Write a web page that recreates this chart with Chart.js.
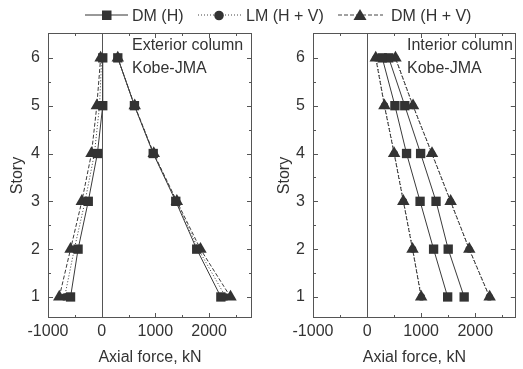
<!DOCTYPE html>
<html>
<head>
<meta charset="utf-8">
<script src="https://cdn.jsdelivr.net/npm/chart.js@4"></script>
<style>
  html, body { margin: 0; padding: 0; background: #fff; }
  #wrap { position: relative; width: 523px; height: 369px; overflow: hidden; }
  #legend { position: absolute; left: 0; top: 0; }
  #c1 { position: absolute; left: 0; top: 0; }
  #c2 { position: absolute; left: 262px; top: 0; }
</style>
</head>
<body>
<div id="wrap">
  <canvas id="c1" width="262" height="369"></canvas>
  <canvas id="c2" width="261" height="369"></canvas>
  <svg id="legend" width="523" height="30" font-family="Liberation Sans, Arial, sans-serif" font-size="16" fill="#333">
    <line x1="85" y1="15" x2="128" y2="15" stroke="#333" stroke-width="1"/>
    <rect x="102" y="10.5" width="9.5" height="9.5" fill="#333"/>
    <text x="132" y="20.5">DM (H)</text>
    <line x1="198" y1="15" x2="242" y2="15" stroke="#444" stroke-width="1" stroke-dasharray="1,2"/>
    <circle cx="219" cy="15.5" r="4.8" fill="#333"/>
    <text x="246" y="20.5">LM (H + V)</text>
    <line x1="338" y1="15" x2="383" y2="15" stroke="#444" stroke-width="1" stroke-dasharray="4,2"/>
    <polygon points="360,9 366.5,20 353.5,20" fill="#333"/>
    <text x="391" y="20.5">DM (H + V)</text>
  </svg>
</div>
<script>
var stories = [1, 2, 3, 4, 5, 6];
var xTicks = [-1000, 0, 1000, 2000];
var xMinorTicks = [-500, 500, 1500, 2500];
var yMinorTicks = [1.5, 2.5, 3.5, 4.5, 5.5];

// exterior column (left)
var extDmH_min = [-580, -440, -250, -80, 20, 20];
var extDmH_max = [2220, 1770, 1380, 960, 610, 300];
var extLm_min = [-690, -510, -310, -135, -40, 0];
var extLm_max = [2310, 1800, 1390, 965, 612, 300];
var extDmHV_min = [-790, -580, -370, -190, -90, -20];
var extDmHV_max = [2400, 1840, 1400, 970, 615, 300];

// interior column (right)
var intDmH_min = [1490, 1230, 980, 730, 515, 280];
var intDmH_max = [1795, 1500, 1275, 990, 697, 400];
var intLm_min = [1005, 845, 675, 505, 325, 165];
var intLm_max = [2260, 1885, 1540, 1195, 845, 520];
var intDmHV_min = [1000, 840, 670, 500, 320, 160];
var intDmHV_max = [2266, 1890, 1545, 1200, 850, 525];

var FONT = 'Liberation Sans, Arial, sans-serif';
var TXT = '#333';

function pts(vals) {
    return vals.map((v, i) => ({x: v, y: stories[i]}));
}

// lower order is drawn on top: squares > triangles > circles
function series(vals, style) {
    var ds = {
        data: pts(vals),
        borderColor: '#3a3a3a',
        borderWidth: 1,
        backgroundColor: '#333',
        pointBorderWidth: 0,
        fill: false,
        tension: 0
    };
    if (style == 'sq') {
        ds.pointStyle = 'rect'; ds.pointRadius = 6.6; ds.order = 1;
    } else if (style == 'ci') {
        ds.pointStyle = 'circle'; ds.pointRadius = 3.6; ds.borderDash = [1, 2]; ds.order = 3;
    } else {
        ds.pointStyle = 'triangle'; ds.pointRadius = 7.2; ds.borderDash = [4, 2]; ds.order = 2;
    }
    return ds;
}

var framePlugin = {
    id: 'frame',
    beforeDatasetsDraw(chart) {
        var ctx = chart.ctx, a = chart.chartArea;
        var x = chart.scales.x, y = chart.scales.y;
        ctx.save();
        ctx.strokeStyle = '#555';
        ctx.lineWidth = 1;
        ctx.strokeRect(Math.round(a.left) + 0.5, Math.round(a.top) + 0.5,
            Math.round(a.width) - 1, Math.round(a.height) - 1);
        var x0 = Math.round(x.getPixelForValue(0)) + 0.5;
        ctx.beginPath();
        ctx.moveTo(x0, a.top); ctx.lineTo(x0, a.bottom);
        ctx.stroke();
        function xt(v, len) {
            var p = Math.round(x.getPixelForValue(v)) + 0.5;
            ctx.moveTo(p, a.bottom); ctx.lineTo(p, a.bottom - len);
            ctx.moveTo(p, a.top); ctx.lineTo(p, a.top + len);
        }
        function yt(v, len) {
            var p = Math.round(y.getPixelForValue(v)) + 0.5;
            ctx.moveTo(a.left, p); ctx.lineTo(a.left + len, p);
            ctx.moveTo(a.right, p); ctx.lineTo(a.right - len, p);
        }
        ctx.beginPath();
        xTicks.forEach(v => xt(v, 5));
        xMinorTicks.forEach(v => xt(v, 3));
        stories.forEach(v => yt(v, 5));
        yMinorTicks.forEach(v => yt(v, 3));
        ctx.stroke();
        ctx.restore();
    },
    afterDraw(chart, args, opts) {
        var ctx = chart.ctx, a = chart.chartArea;
        ctx.save();
        ctx.fillStyle = TXT;
        ctx.font = '16px ' + FONT;
        ctx.textBaseline = 'middle';
        ctx.fillText(opts.title, a.left + opts.dx, 46);
        ctx.fillText('Kobe-JMA', a.left + opts.dx, 69);
        ctx.restore();
    }
};

function makeChart(id, sets, xmax, pad, titlePad, note, dx) {
    var ctx = document.getElementById(id).getContext('2d');
    return new Chart(ctx, {
        type: 'line',
        data: {
            datasets: [
                series(sets[0], 'sq'), series(sets[1], 'sq'),
                series(sets[4], 'tr'), series(sets[5], 'tr'),
                series(sets[2], 'ci'), series(sets[3], 'ci')
            ]
        },
        options: {
            responsive: false,
            animation: false,
            clip: false,
            layout: {padding: {left: 0, right: pad, top: 33, bottom: 0}},
            plugins: {
                legend: {display: false},
                tooltip: {enabled: false},
                frame: {title: note, dx: dx}
            },
            scales: {
                x: {
                    type: 'linear',
                    min: -1000, max: xmax,
                    afterBuildTicks: s => { s.ticks = xTicks.map(v => ({value: v})); },
                    afterFit: s => { s.height = 51; },
                    grid: {display: false, drawTicks: false},
                    border: {display: false},
                    ticks: {color: TXT, font: {family: FONT, size: 16}, padding: 4, maxRotation: 0,
                        callback: v => String(v)},
                    title: {display: true, text: 'Axial force, kN', color: TXT,
                        font: {family: FONT, size: 16}, padding: {top: 0, bottom: 2}}
                },
                y: {
                    type: 'linear',
                    min: 0.56, max: 6.52,
                    afterBuildTicks: s => { s.ticks = stories.map(v => ({value: v})); },
                    afterFit: s => { s.width = (id == 'c1' ? 48 : 51); },
                    grid: {display: false, drawTicks: false},
                    border: {display: false},
                    ticks: {color: TXT, font: {family: FONT, size: 16}, padding: 8},
                    title: {display: true, text: 'Story', color: TXT,
                        font: {family: FONT, size: 16}, padding: {top: titlePad, bottom: 0}}
                }
            }
        },
        plugins: [framePlugin]
    });
}

makeChart('c1', [extDmH_min, extDmH_max, extLm_min, extLm_max, extDmHV_min, extDmHV_max],
    2800, 10, 8, 'Exterior column', 84);
makeChart('c2', [intDmH_min, intDmH_max, intLm_min, intLm_max, intDmHV_min, intDmHV_max],
    2750, 4, 13, 'Interior column', 94);
</script>
</body>
</html>
